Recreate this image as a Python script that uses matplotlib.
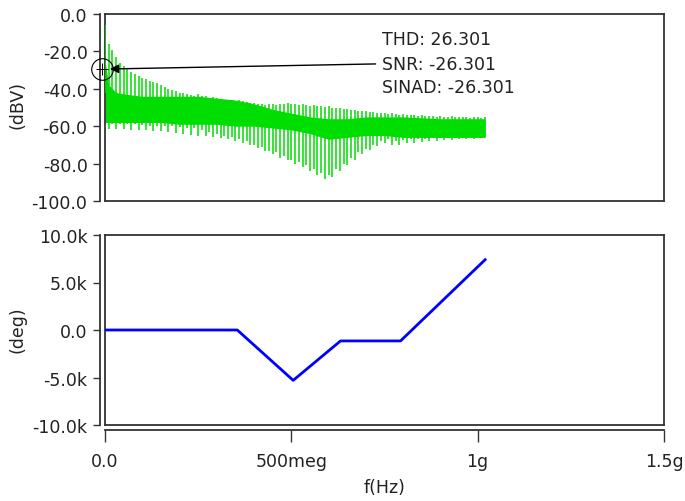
import numpy as np
import matplotlib
matplotlib.use("Agg")
import matplotlib.pyplot as plt

# ---------------- data ----------------
# spectrum spikes (MHz grid) - peak and trough of each spike in dBV
spike_mhz = np.arange(0, 1021, 10)
peak_dbv = [-6, -16, -19, -23, -26, -28, -29, -31, -32, -33,
            -34, -35, -36, -36.5, -37, -38, -39, -40, -40.5, -41,
            -42, -42.5, -43, -43.5, -44, -43, -44, -44, -45, -44.5,
            -45, -45.5, -46, -46, -46, -46.5, -46, -46.5, -47, -47.5,
            -47.5, -48, -48, -48.5, -48, -48, -48.5, -48, -48, -47.5,
            -48, -48, -48.5, -48, -48.5, -49, -48.5, -49, -49, -49.5,
            -49, -50, -50, -50.5, -51, -51, -51.5, -51.5, -52, -52,
            -52, -52.5, -52.5, -53, -53, -53, -53.5, -53, -53.5, -54,
            -53.5, -54, -54, -54, -54.5, -54, -54.5, -54.5, -54.5, -55,
            -54.5, -55, -55, -54.5, -55, -55, -55, -55, -55.5, -55,
            -55, -55.5, -55]
trough_dbv = [-42, -61.5, -59, -61.5, -59, -61.5, -59, -62, -59, -62,
              -59.5, -62, -60, -62.5, -60, -62.5, -60, -63, -60, -63.5,
              -60.5, -64, -61, -64.5, -61, -65, -62, -65.5, -63, -66,
              -64, -66.5, -65, -67, -66, -68, -67, -69, -68, -70,
              -70, -71.5, -71, -73, -73, -75, -74, -77, -76, -78,
              -78, -80, -79, -82, -81, -84, -83, -86, -85, -88,
              -86, -87, -83, -84, -80, -81, -77, -78, -74, -75,
              -72, -72.5, -70, -70.5, -68, -69, -67, -70, -68, -70,
              -67.5, -69, -67, -69, -67, -68.5, -67, -68, -66.5, -68,
              -66.5, -67.5, -66.5, -67.5, -66.5, -67, -66.5, -67, -66, -67,
              -66, -66.5, -66]
# dense band of the spectrum
band_mhz = [0, 10, 30, 60, 100, 150, 200, 250, 300, 350, 400, 450, 500,
            550, 600, 650, 700, 750, 800, 900, 1020]
band_top = [-25, -38, -42, -43, -44, -44, -44, -44, -45, -46, -48, -51, -53,
            -55, -56, -56, -55, -55, -55, -56, -56]
band_bot = [-58, -58, -58, -58, -58, -58, -59, -59, -59, -60, -60, -61, -62,
            -64, -67, -66, -65, -65, -66, -66, -66]

# phase
phase_hz = [0, 355e6, 505e6, 632e6, 793e6, 1020e6]
phase_deg = [0, 0, -5300, -1150, -1150, 7400]

mag_ticks = [0, -20, -40, -60, -80, -100]
mag_labels = ["0.0", "-20.0", "-40.0", "-60.0", "-80.0", "-100.0"]
ph_ticks = [10000, 5000, 0, -5000, -10000]
ph_labels = ["10.0k", "5.0k", "0.0", "-5.0k", "-10.0k"]
f_ticks = [0, 500e6, 1e9, 1.5e9]
f_labels = ["0.0", "500meg", "1g", "1.5g"]

notes = ["THD: 26.301", "SNR: -26.301", "SINAD: -26.301"]
note_y = [-13.6, -26.5, -38.8]

# ---------------- figure ----------------
W, H = 685, 502
fig = plt.figure(figsize=(W / 100, H / 100), dpi=100)
FS = 12.5
TC = "#222222"
LC = "#333333"
LW = 1.3
GREEN = "#00DD00"
BLUE = "#0000FF"

ax1 = fig.add_axes([105 / W, 1 - 202 / H, 559 / W, 187 / H])
ax2 = fig.add_axes([105 / W, 1 - 426 / H, 559 / W, 190 / H])

for ax in (ax1, ax2):
    ax.set_xlim(0, 1.5e9)
    for s in ax.spines.values():
        s.set_color(LC)
        s.set_linewidth(LW)
    ax.spines["left"].set_position(("outward", 3.6))
    ax.axvline(0, color=LC, lw=LW, clip_on=False)
    ax.tick_params(axis="y", direction="out", length=5, width=1.0,
                   color=LC, pad=4, labelsize=FS, labelcolor=TC)

# top panel
f_spk = spike_mhz * 1e6
ax1.fill_between(np.array(band_mhz) * 1e6, band_bot, band_top,
                 color=GREEN, lw=0)
ax1.vlines(f_spk, trough_dbv, peak_dbv, color=GREEN, lw=1.1)
ax1.set_ylim(-100, 0)
ax1.set_yticks(mag_ticks)
ax1.set_yticklabels(mag_labels)
ax1.set_xticks([])

# cursor annotation
cx, cy = -8e6, -29.4
ax1.plot([cx], [cy], marker="o", ms=15.5, mfc="none", mec="k",
         mew=0.8, clip_on=False, zorder=5)
ax1.plot([cx], [cy], marker="+", ms=9, mec="k", mew=0.7,
         clip_on=False, zorder=5)
ax1.annotate("", xy=(13e6, cy), xytext=(726e6, -26.7),
             arrowprops=dict(arrowstyle="-|>", color="k", lw=1.0,
                             mutation_scale=13, shrinkA=0, shrinkB=0),
             zorder=6)
for t, yy in zip(notes, note_y):
    ax1.text(742e6, yy, t, ha="left", va="center", fontsize=FS, color=TC)

# bottom panel
ax2.plot(phase_hz, phase_deg, color=BLUE, lw=2.0)
ax2.set_ylim(-10000, 10000)
ax2.set_yticks(ph_ticks)
ax2.set_yticklabels(ph_labels)
ax2.spines["bottom"].set_position(("outward", 3.6))
ax2.axhline(-10000, color=LC, lw=LW, clip_on=False)
ax2.set_xticks(f_ticks)
ax2.set_xticklabels(f_labels)
ax2.tick_params(axis="x", direction="out", length=8.6, width=1.0,
                color=LC, pad=7, labelsize=FS, labelcolor=TC)

fig.text(17 / W, 1 - 105 / H, "(dBV)", rotation=90, ha="center",
         va="center", fontsize=FS, color=TC)
fig.text(17 / W, 1 - 330 / H, "(deg)", rotation=90, ha="center",
         va="center", fontsize=FS, color=TC)
fig.text(385 / W, 1 - 488 / H, "f(Hz)", ha="center", va="center",
         fontsize=FS, color=TC)

fig.savefig("out.png", dpi=100)
